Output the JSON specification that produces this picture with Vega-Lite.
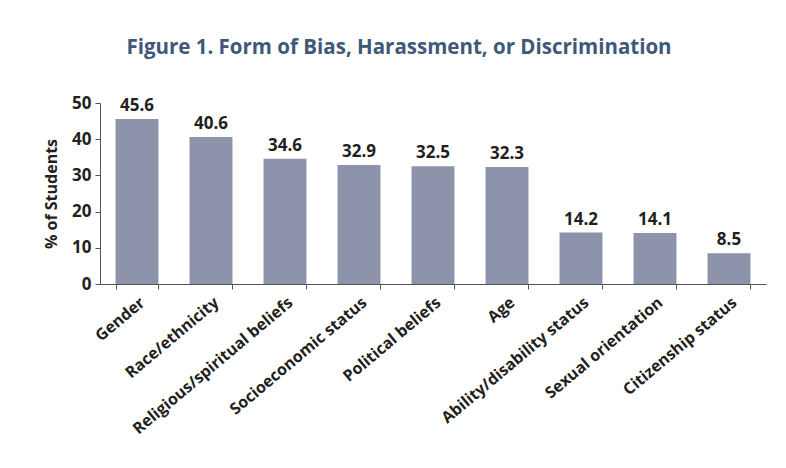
{
  "$schema": "https://vega.github.io/schema/vega-lite/v6.json",
  "autosize": {"type": "none"},
  "width": 666,
  "height": 181,
  "padding": {"left": 100, "top": 103, "right": 20, "bottom": 184},
  "background": "white",
  "title": {
    "text": "Figure 1. Form of Bias, Harassment, or Discrimination",
    "font": "Open Sans",
    "fontSize": 20.5,
    "fontWeight": "bold",
    "color": "#3f5878",
    "anchor": "middle",
    "dx": -34,
    "offset": 36
  },
  "config": {
    "view": {"stroke": null},
    "font": "Open Sans"
  },
  "data": {
    "values": [
      {"form": "Gender", "pct": 45.6},
      {"form": "Race/ethnicity", "pct": 40.6},
      {"form": "Religious/spiritual beliefs", "pct": 34.6},
      {"form": "Socioeconomic status", "pct": 32.9},
      {"form": "Political beliefs", "pct": 32.5},
      {"form": "Age", "pct": 32.3},
      {"form": "Ability/disability status", "pct": 14.2},
      {"form": "Sexual orientation", "pct": 14.1},
      {"form": "Citizenship status", "pct": 8.5}
    ]
  },
  "encoding": {
    "x": {
      "field": "form",
      "type": "nominal",
      "sort": null,
      "scale": {"paddingInner": 0.42, "paddingOuter": 0.21},
      "axis": {
        "title": null,
        "labelAngle": -40,
        "labelAlign": "right",
        "labelBaseline": "top",
        "labelFont": "Open Sans",
        "labelFontSize": 16,
        "labelFontWeight": "bold",
        "labelColor": "#231f20",
        "labelPadding": 5,
        "tickBand": "extent",
        "tickSize": 5,
        "tickColor": "#555555",
        "domainColor": "#555555",
        "labelLimit": 300
      }
    },
    "y": {
      "field": "pct",
      "type": "quantitative",
      "scale": {"domain": [0, 50]},
      "axis": {
        "title": "% of Students",
        "titleFont": "Open Sans",
        "titleFontSize": 16,
        "titleFontWeight": "bold",
        "titleColor": "#231f20",
        "titlePadding": 12,
        "values": [0, 10, 20, 30, 40, 50],
        "grid": false,
        "labelFont": "Open Sans",
        "labelFontSize": 17,
        "labelFontWeight": "bold",
        "labelColor": "#231f20",
        "labelPadding": 4,
        "tickSize": 5,
        "tickColor": "#555555",
        "domainColor": "#555555"
      }
    }
  },
  "layer": [
    {"mark": {"type": "bar", "color": "#8d93aa"}},
    {
      "mark": {"type": "text", "dy": -13, "font": "Open Sans", "fontSize": 17, "fontWeight": "bold", "color": "#231f20"},
      "encoding": {"text": {"field": "pct", "type": "quantitative", "format": ".1f"}}
    }
  ]
}
